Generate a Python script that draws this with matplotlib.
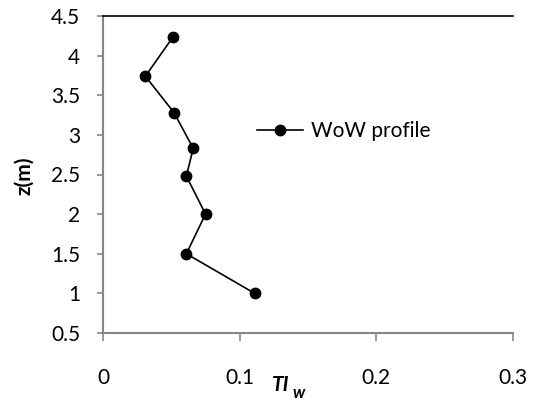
import matplotlib.pyplot as plt

# ---------------- data ----------------
ti_w = [0.051, 0.031, 0.052, 0.066, 0.061, 0.075, 0.061, 0.111]
z_m = [4.23, 3.74, 3.28, 2.83, 2.48, 2.0, 1.5, 1.0]
x_ticks = [0, 0.1, 0.2, 0.3]
y_ticks = [0.5, 1, 1.5, 2, 2.5, 3, 3.5, 4, 4.5]
x_labels = ["0", "0.1", "0.2", "0.3"]
y_labels = ["0.5", "1", "1.5", "2", "2.5", "3", "3.5", "4", "4.5"]
series_name = "WoW profile"

plt.rcParams['font.family'] = ['Lato', 'DejaVu Sans']

W, H = 537, 403
fig = plt.figure(figsize=(W / 100, H / 100), dpi=100)
ax = fig.add_axes([103 / W, 1 - 333 / H, 410 / W, 317 / H])

ax.plot(ti_w, z_m, color="black", linewidth=1.2, marker="o", markersize=7.5,
        label=series_name)

ax.set_xlim(0, 0.3)
ax.set_ylim(0.5, 4.5)
ax.set_xticks(x_ticks)
ax.set_yticks(y_ticks)
ax.set_xticklabels(x_labels)
ax.set_yticklabels(y_labels)

gray = "#868686"
for side in ["left", "bottom"]:
    ax.spines[side].set_color(gray)
    ax.spines[side].set_linewidth(1.5)
ax.spines["right"].set_visible(False)
ax.spines["top"].set_color("black")
ax.spines["top"].set_linewidth(1.2)
ax.tick_params(axis="both", colors=gray, width=1.2, labelsize=15,
               labelcolor="black")
ax.tick_params(axis="x", length=6, pad=19)
ax.tick_params(axis="y", length=4.5, pad=12)

# axis titles (Excel-style placement)
fig.text(24 / W, 1 - 176 / H, "z(m)", fontsize=15, fontweight="bold",
         rotation=90, ha="center", va="center")
fig.text(272 / W, 1 - 385 / H, "TI", fontsize=15, ha="left", va="center",
         style="italic", fontweight="bold")
fig.text(292 / W, 1 - 393 / H, "w", fontsize=12, ha="left", va="center",
         style="italic", fontweight="bold")

ax.legend(loc="center left", bbox_to_anchor=(257 / W, 1 - 131 / H),
          bbox_transform=fig.transFigure, frameon=False, borderaxespad=0,
          borderpad=0, fontsize=15, handlelength=2.2, handletextpad=0.4)

fig.savefig("out.png", dpi=100)
